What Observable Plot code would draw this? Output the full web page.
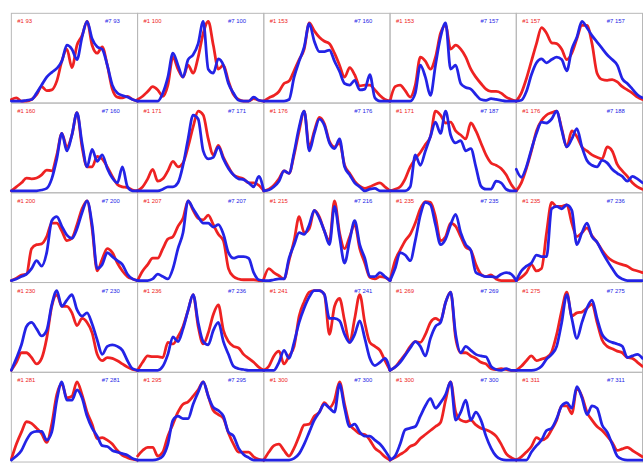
<!DOCTYPE html>
<html>
<head>
<meta charset="utf-8">
<script src="https://cdn.jsdelivr.net/npm/d3@7"></script>
<script src="https://cdn.jsdelivr.net/npm/@observablehq/plot@0.6"></script>
<style>
  html, body { margin: 0; padding: 0; background: #fff; overflow: hidden; }
  #chart svg { display: block; }
</style>
</head>
<body>
<div id="chart"></div>
<script>
// Sample positions within each panel (0..25)
const samples = d3.range(26);

// Red series, one array per panel (row-major, 5 columns)
const redSeries = [
  [0.02,0.04,0,0,0.02,0.08,0.18,0.13,0.14,0.25,0.5,0.65,0.42,0.7,0.82,1.0,0.7,0.6,0.68,0.45,0.15,0.05,0.04,0.06,0.02,0],
  [0.02,0.06,0.12,0.18,0.14,0.06,0.2,0.55,0.4,0.3,0.45,0.35,0.55,0.85,1.0,0.7,0.4,0.45,0.25,0.08,0.02,0,0,0.03,0.01,0],
  [0,0.04,0.07,0.12,0.22,0.25,0.38,0.52,0.65,0.98,0.88,0.8,0.75,0.72,0.6,0.45,0.3,0.42,0.33,0.19,0.2,0.2,0.14,0.07,0.02,0],
  [0,0.18,0.2,0.13,0.05,0.2,0.55,0.5,0.4,0.55,0.85,0.95,0.65,0.7,0.65,0.55,0.4,0.3,0.22,0.15,0.12,0.12,0.1,0.05,0.02,0],
  [0,0.1,0.28,0.5,0.72,0.92,0.85,0.73,0.72,0.65,0.52,0.6,0.78,0.95,0.95,0.72,0.35,0.27,0.26,0.27,0.24,0.18,0.14,0.1,0.05,0.02],
  [0,0.05,0.1,0.16,0.15,0.16,0.2,0.26,0.25,0.45,0.72,0.55,0.7,0.98,0.55,0.3,0.3,0.43,0.4,0.3,0.18,0.08,0.05,0.04,0.01,0],
  [0,0.05,0.15,0.27,0.12,0.15,0.25,0.37,0.3,0.35,0.55,0.8,1.0,0.95,0.65,0.45,0.57,0.42,0.3,0.2,0.17,0.15,0.1,0.1,0.07,0],
  [0,0.02,0.07,0.15,0.25,0.22,0.45,0.75,1.0,0.55,0.75,0.92,0.84,0.62,0.55,0.6,0.32,0.22,0.12,0.06,0.03,0.05,0.08,0.1,0.05,0],
  [0,0.02,0.05,0.15,0.3,0.4,0.48,0.58,0.68,1.0,0.95,0.85,0.86,0.75,0.7,0.65,0.85,0.75,0.6,0.45,0.35,0.32,0.28,0.2,0.08,0],
  [0,0.1,0.28,0.5,0.75,0.88,0.95,0.98,1.0,0.78,0.55,0.75,0.68,0.55,0.5,0.45,0.42,0.4,0.55,0.5,0.33,0.25,0.18,0.1,0.05,0.02],
  [0,0.03,0.07,0.08,0.4,0.45,0.46,0.55,0.72,0.72,0.62,0.5,0.53,0.7,0.9,1.0,0.65,0.12,0.27,0.4,0.35,0.22,0.12,0.05,0.02,0],
  [0,0.12,0.2,0.28,0.28,0.4,0.52,0.55,0.68,0.78,1.0,0.88,0.78,0.76,0.82,0.7,0.58,0.5,0.15,0.05,0.02,0.01,0.01,0.01,0,0],
  [0.02,0.15,0.1,0.06,0.02,0.25,0.5,0.8,0.6,0.65,0.88,0.8,0.62,0.5,1.0,0.6,0.4,0.55,0.7,0.4,0.22,0.04,0.02,0.05,0.04,0],
  [0,0.25,0.38,0.5,0.58,0.72,0.9,0.99,0.98,0.8,0.5,0.55,0.72,0.68,0.55,0.42,0.38,0.2,0.08,0.05,0.07,0.02,0,0,0,0],
  [0,0.04,0.1,0.2,0.12,0.15,0.6,0.98,0.93,0.93,0.95,0.72,0.55,0.6,0.66,0.56,0.48,0.38,0.3,0.25,0.22,0.2,0.18,0.14,0.12,0.1],
  [0,0.1,0.22,0.22,0.16,0.08,0.15,0.4,0.8,0.95,0.8,0.8,0.72,0.56,0.65,0.6,0.47,0.2,0.12,0.16,0.15,0.12,0.08,0.04,0.01,0],
  [0,0.1,0.18,0.17,0.17,0.16,0.35,0.33,0.42,0.55,0.75,0.95,0.55,0.33,0.47,0.7,0.82,0.5,0.36,0.3,0.28,0.2,0.15,0.1,0.04,0],
  [0,0.05,0.18,0.24,0.08,0.18,0.3,0.68,0.86,0.98,1.0,1.0,0.95,0.45,0.8,0.9,0.62,0.35,0.65,0.95,0.6,0.35,0.3,0.25,0.12,0],
  [0,0.04,0.12,0.2,0.3,0.36,0.35,0.45,0.6,0.65,0.62,0.85,0.98,0.4,0.22,0.22,0.18,0.15,0.1,0.08,0.02,0.01,0.02,0.01,0,0],
  [0,0.05,0.12,0.18,0.12,0.14,0.16,0.23,0.45,0.75,0.98,0.68,0.72,0.73,0.78,0.83,0.6,0.38,0.3,0.27,0.24,0.22,0.16,0.15,0.1,0.05],
  [0.01,0.2,0.35,0.48,0.46,0.4,0.33,0.22,0.45,0.82,0.95,0.78,0.8,0.98,0.82,0.6,0.45,0.27,0.28,0.25,0.2,0.12,0.06,0.03,0.01,0],
  [0.05,0.12,0.16,0.16,0.05,0.1,0.3,0.45,0.6,0.7,0.73,0.8,0.88,0.98,0.8,0.62,0.57,0.52,0.34,0.2,0.1,0.1,0.1,0.04,0.01,0],
  [0,0.1,0.18,0.2,0.12,0.05,0.15,0.3,0.44,0.45,0.55,0.6,0.72,0.66,0.75,0.98,0.7,0.45,0.38,0.33,0.32,0.25,0.15,0.1,0.04,0],
  [0,0.03,0.07,0.11,0.17,0.2,0.27,0.32,0.37,0.42,0.47,0.75,0.98,0.6,0.5,0.48,0.5,0.44,0.4,0.38,0.35,0.3,0.2,0.08,0.03,0],
  [0,0.04,0.1,0.17,0.28,0.25,0.28,0.38,0.5,0.68,0.68,0.58,0.9,0.8,0.6,0.5,0.42,0.37,0.3,0.22,0.12,0.14,0.16,0.12,0.08,0.04]
];

// Blue series, one array per panel
const blueSeries = [
  [0,0,0,0.01,0.02,0.1,0.2,0.3,0.36,0.41,0.5,0.7,0.65,0.52,0.8,1.0,0.78,0.68,0.65,0.45,0.2,0.1,0.07,0.05,0.02,0],
  [0,0,0,0,0,0.1,0.3,0.6,0.45,0.3,0.52,0.58,0.72,1.0,0.4,0.35,0.53,0.45,0.22,0.1,0.01,0,0,0.05,0.01,0],
  [0,0,0,0,0,0.02,0.3,0.5,0.68,0.97,0.75,0.62,0.62,0.64,0.5,0.37,0.22,0.2,0.26,0.14,0.15,0.33,0.04,0,0,0],
  [0,0,0,0,0,0.1,0.45,0.3,0.07,0.45,0.8,0.98,0.4,0.45,0.22,0.17,0.15,0.08,0.02,0.01,0.03,0.02,0.01,0,0,0],
  [0,0.01,0.12,0.33,0.48,0.53,0.48,0.52,0.55,0.52,0.38,0.65,0.8,1.0,0.92,0.82,0.74,0.66,0.58,0.52,0.45,0.28,0.22,0.15,0.08,0.04],
  [0,0,0,0,0,0,0.01,0.03,0.15,0.4,0.72,0.5,0.7,0.98,0.6,0.3,0.52,0.37,0.45,0.28,0.16,0.1,0.3,0.05,0,0],
  [0,0,0,0,0,0.02,0.05,0.05,0.1,0.32,0.65,0.95,0.9,0.5,0.4,0.42,0.55,0.4,0.28,0.2,0.15,0.14,0.1,0.05,0.18,0],
  [0,0.01,0.05,0.12,0.25,0.22,0.48,0.8,1.0,0.5,0.72,0.9,0.82,0.6,0.53,0.65,0.3,0.2,0.1,0.05,0,0.02,0.03,0,0,0],
  [0,0,0,0,0.05,0.45,0.32,0.5,0.68,0.86,0.72,1.0,0.7,0.6,0.63,0.5,0.53,0.3,0.06,0.02,0.02,0.12,0.1,0.02,0,0],
  [0.27,0.17,0.3,0.52,0.72,0.86,0.85,0.9,1.0,0.76,0.55,0.65,0.78,0.55,0.38,0.32,0.3,0.38,0.35,0.27,0.22,0.18,0.12,0.18,0.15,0.1],
  [0,0.02,0.05,0.08,0.15,0.25,0.18,0.35,0.75,0.8,0.68,0.57,0.53,0.65,0.85,1.0,0.7,0.15,0.2,0.35,0.3,0.25,0.2,0.08,0.02,0],
  [0,0,0,0.02,0.08,0.05,0.02,0.15,0.4,0.6,1.0,0.9,0.8,0.72,0.72,0.67,0.7,0.58,0.35,0.28,0.3,0.3,0.28,0.1,0.01,0],
  [0,0,0.01,0.02,0.02,0.28,0.45,0.6,0.58,0.7,0.88,0.78,0.62,0.45,0.93,0.55,0.22,0.5,0.75,0.45,0.28,0.05,0.05,0.1,0.05,0],
  [0,0.15,0.35,0.32,0.25,0.5,0.82,0.98,0.95,0.7,0.45,0.52,0.7,0.83,0.6,0.45,0.38,0.1,0.07,0.05,0.05,0.04,0.08,0.1,0.08,0],
  [0,0.12,0.18,0.22,0.32,0.3,0.3,0.9,0.93,0.9,0.95,0.88,0.45,0.6,0.72,0.55,0.48,0.36,0.25,0.15,0.06,0.02,0,0,0,0],
  [0,0.15,0.32,0.55,0.6,0.52,0.43,0.5,0.82,1.0,0.8,0.88,0.95,0.76,0.68,0.72,0.58,0.38,0.2,0.3,0.32,0.3,0.25,0.12,0.02,0],
  [0,0,0,0,0,0.05,0.2,0.42,0.36,0.52,0.75,0.95,0.6,0.36,0.32,0.5,0.6,0.36,0.2,0.05,0.02,0.01,0,0,0,0],
  [0,0,0,0.1,0.25,0.15,0.35,0.6,0.78,0.92,1.0,1.0,0.95,0.65,0.65,0.62,0.45,0.35,0.45,0.62,0.4,0.15,0.06,0.1,0.15,0],
  [0,0.04,0.1,0.19,0.28,0.36,0.3,0.18,0.4,0.55,0.6,0.85,0.98,0.45,0.22,0.3,0.25,0.2,0.18,0.17,0.05,0.01,0,0.02,0,0],
  [0,0,0,0,0.01,0.05,0.14,0.2,0.3,0.6,0.95,0.65,0.4,0.6,0.78,0.88,0.65,0.45,0.38,0.35,0.33,0.3,0.16,0.18,0.2,0.15],
  [0,0.05,0.12,0.25,0.34,0.36,0.36,0.25,0.35,0.75,0.98,0.75,0.75,0.88,0.78,0.55,0.4,0.3,0.18,0.17,0.12,0.1,0.08,0.06,0.02,0],
  [0,0,0,0,0.01,0.05,0.2,0.5,0.55,0.52,0.52,0.7,0.85,0.98,0.8,0.66,0.62,0.55,0.35,0.3,0.15,0.07,0.03,0,0,0],
  [0,0,0,0,0,0,0.02,0.08,0.2,0.35,0.5,0.6,0.7,0.65,0.6,0.95,0.65,0.42,0.45,0.35,0.3,0.3,0.25,0.2,0.12,0.02],
  [0,0.05,0.2,0.38,0.4,0.42,0.55,0.68,0.77,0.65,0.72,0.82,0.98,0.5,0.6,0.75,0.5,0.6,0.5,0.3,0.15,0.05,0.01,0,0,0],
  [0,0,0,0.1,0.18,0.25,0.37,0.4,0.52,0.68,0.72,0.65,0.92,0.78,0.57,0.68,0.65,0.44,0.35,0.2,0.05,0.01,0,0,0,0]
];

// Panel labels
const redLabels = [
  "#1 93","#1 100","#1 153","#1 153","#1 157",
  "#1 160","#1 171","#1 176","#1 171","#1 176",
  "#1 200","#1 207","#1 215","#1 235","#1 235",
  "#1 230","#1 236","#1 241","#1 269","#1 275",
  "#1 281","#1 295","#1 300","#1 300","#1 311"
];
const blueLabels = [
  "#7 93","#7 100","#7 160","#7 157","#7 157",
  "#7 160","#7 171","#7 176","#7 187","#7 188",
  "#7 200","#7 207","#7 216","#7 235","#7 236",
  "#7 230","#7 236","#7 241","#7 269","#7 275",
  "#7 281","#7 295","#7 300","#7 300","#7 311"
];

const nCols = 5;
const toRows = (series) => series.flatMap((arr, p) =>
  arr.map((v, k) => ({row: Math.floor(p / nCols), col: p % nCols, i: samples[k], v})));
const redRows = toRows(redSeries);
const blueRows = toRows(blueSeries);
const panels = redLabels.map((t, p) => ({row: Math.floor(p / nCols), col: p % nCols, red: t, blue: blueLabels[p]}));

const RED = "#ee2222";
const BLUE = "#2323e6";

const chart = Plot.plot({
  width: 652,
  height: 472,
  marginLeft: 10,
  marginRight: 0,
  marginTop: 12,
  marginBottom: 3,
  style: {fontFamily: "Liberation Sans, Arial, sans-serif", background: "#fff"},
  x: {domain: [0, 25], axis: null},
  y: {domain: [-0.025, 1.1], axis: null},
  fx: {axis: null, padding: 0, domain: d3.range(5)},
  fy: {axis: null, padding: 0, domain: d3.range(5)},
  marks: [
    Plot.frame({stroke: "#b8b8b8", strokeWidth: 1}),
    Plot.line(redRows, {x: "i", y: "v", fx: "col", fy: "row", stroke: RED, strokeWidth: 2.8, curve: "monotone-x", strokeLinejoin: "round"}),
    Plot.line(blueRows, {x: "i", y: "v", fx: "col", fy: "row", stroke: BLUE, strokeWidth: 2.8, curve: "monotone-x", strokeLinejoin: "round"}),
    Plot.text(panels, {fx: "col", fy: "row", text: "red", frameAnchor: "top-left", dx: 6, dy: 6, fill: RED, fontSize: 6}),
    Plot.text(panels, {fx: "col", fy: "row", text: "blue", frameAnchor: "top-right", dx: -18, dy: 6, fill: BLUE, fontSize: 6})
  ]
});
document.getElementById("chart").append(chart);
</script>
</body>
</html>
